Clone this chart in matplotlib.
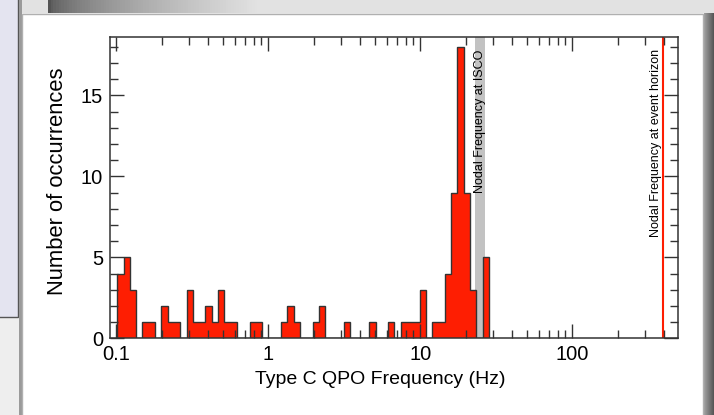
import numpy as np
import matplotlib.pyplot as plt
from matplotlib.patches import Rectangle
from matplotlib.ticker import FixedLocator, LogLocator, NullFormatter, MultipleLocator

plt.rcParams['font.family'] = ['Liberation Sans', 'DejaVu Sans']

# histogram of type C QPO frequencies (log-spaced bins)
f_lo, f_hi = 0.1015, 28.3
counts = [4, 5, 3, 0, 1, 1, 0, 2, 1, 1,
          0, 3, 1, 1, 2, 1, 3, 1, 1, 0,
          0, 1, 1, 0, 0, 0, 1, 2, 1, 0,
          0, 1, 2, 0, 0, 0, 1, 0, 0, 0,
          1, 0, 0, 1, 0, 1, 1, 1, 3, 0,
          1, 1, 4, 9, 18, 9, 3, 0, 5]
isco_band = (23.0, 26.7)
horizon_freq = 393.0
major_ticks = [0.1, 1, 10, 100]
major_labels = ['0.1', '1', '10', '100']

edges = np.logspace(np.log10(f_lo), np.log10(f_hi), len(counts) + 1)

W, H = 714, 415
fig = plt.figure(figsize=(W / 100, H / 100), dpi=100)


def px_rect(x, y, w, h, **kw):
    # rectangle given in picture pixels from the top-left corner
    r = Rectangle((x / W, 1 - (y + h) / H), w / W, h / H,
                  transform=fig.transFigure, clip_on=False, **kw)
    fig.add_artist(r)
    return r


def grey_strip(x0, x1, y0, y1, g0, g1, n, power=1.0):
    xs = np.linspace(x0, x1, n + 1)
    for i in range(n):
        t = (i / (n - 1)) ** power
        g = g0 + (g1 - g0) * t
        px_rect(xs[i], y0, xs[i + 1] - xs[i] + 0.3, y1 - y0,
                facecolor=(g, g, g), edgecolor='none', zorder=-5)


# slide-like background decoration
fig.patch.set_facecolor('#eeeeee')
px_rect(0, 0, W, 13, facecolor='#e2e2e2', edgecolor='none', zorder=-6)
grey_strip(48, 260, 0, 13, 0.33, 0.886, 80, power=0.6)
px_rect(-2, -2, 20, 319, facecolor='#e4e4f0', edgecolor='#555555', lw=1, zorder=-5)
px_rect(19, 0, 3, H, facecolor='#9a9a9a', edgecolor='none', zorder=-5)
px_rect(22, 14, 681, 410, facecolor='white', edgecolor='#b0b0b0', lw=1, zorder=-4)
grey_strip(703.5, W, 13, H, 0.62, 0.34, 10)

ax = fig.add_axes([110 / W, 1 - 338.3 / H, (678.3 - 110) / W, (338.3 - 37) / H])
ax.axvspan(*isco_band, color='#c2c2c2', lw=0, zorder=0.5)
ax.stairs(counts, edges, fill=True, color='#fe1e02', zorder=1)
ax.stairs(counts, edges, fill=False, color='#333333', lw=1.0, zorder=1.1)
ax.axvline(horizon_freq, color='#fe1e02', lw=1.5, zorder=1.2)

ax.text(np.sqrt(isco_band[0] * isco_band[1]), 17.85, 'Nodal Frequency at ISCO',
        rotation=90, ha='center', va='top', fontsize=9)
ax.text(horizon_freq * 0.905, 17.85, 'Nodal Frequency at event horizon',
        rotation=90, ha='center', va='top', fontsize=9)

ax.set_xscale('log')
ax.set_xlim(0.0909, 498)
ax.set_ylim(0, 18.6)
ax.xaxis.set_major_locator(FixedLocator(major_ticks))
ax.set_xticklabels(major_labels)
ax.xaxis.set_minor_locator(LogLocator(base=10, subs=np.arange(2, 10)))
ax.xaxis.set_minor_formatter(NullFormatter())
ax.yaxis.set_major_locator(MultipleLocator(5))
ax.yaxis.set_minor_locator(MultipleLocator(1))

ax.tick_params(which='both', direction='in', top=True, right=True,
               color='#333333', width=1.0, labelsize=14.5)
ax.tick_params(axis='x', which='both', pad=5)
ax.tick_params(axis='y', which='both', pad=5)
ax.tick_params(which='major', length=10)
ax.tick_params(which='minor', length=6)
for s in ax.spines.values():
    s.set_color('#333333')
    s.set_linewidth(1.1)

ax.set_xlabel('Type C QPO Frequency (Hz)', fontsize=14)
ax.xaxis.set_label_coords((380.5 - 110) / 568.3, -0.11)
ax.set_ylabel('Number of occurrences', fontsize=15.8)
ax.yaxis.set_label_coords(-0.074, 0.52)

fig.savefig('out.png', dpi=100, facecolor=fig.get_facecolor())
